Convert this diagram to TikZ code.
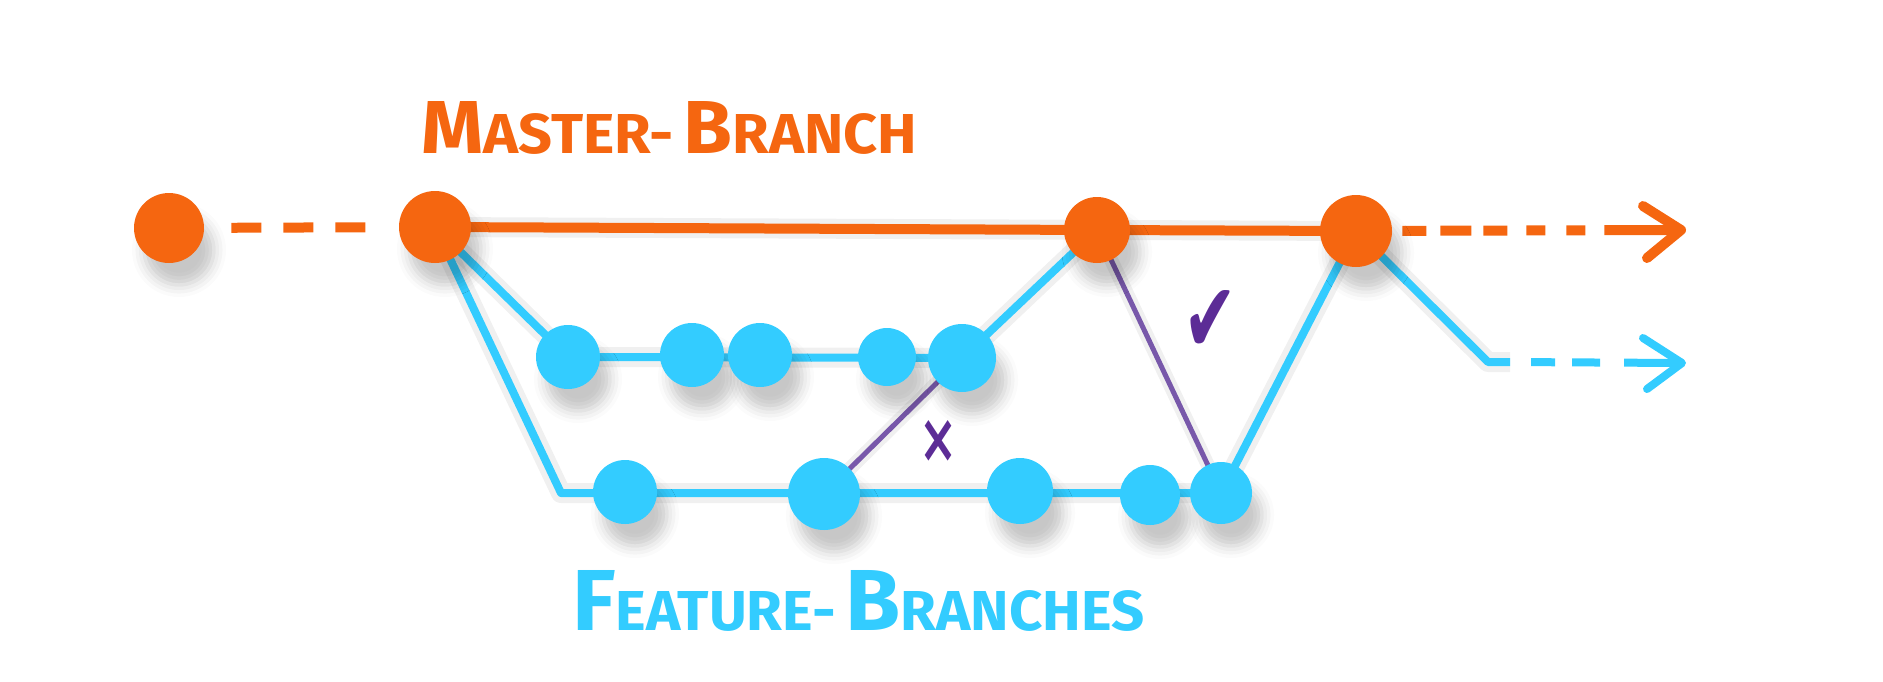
\documentclass[tikz,border=0pt]{standalone}
\usepackage{fontspec}
\usepackage{graphicx}
\setmainfont{Fira Sans}
\newfontfamily\symfont{DejaVu Sans}
\usetikzlibrary{shadows.blur}
\definecolor{mor}{RGB}{245,102,16}
\definecolor{fbl}{RGB}{51,204,255}
\definecolor{pdk}{RGB}{92,44,150}
\definecolor{pln}{RGB}{120,88,170}
\pgfdeclarelayer{shadowlayer}
\pgfdeclarelayer{linelayer}
\pgfsetlayers{shadowlayer,linelayer,main}
\begin{document}
\begin{tikzpicture}[x=0.5pt,y=-0.5pt,
  commit/.style={circle,inner sep=0pt,minimum size=#1,
    blur shadow={shadow xshift=5pt,shadow yshift=-11pt,shadow blur radius=6pt,shadow opacity=22}},
  mcommit/.style={commit=#1,fill=mor},
  fcommit/.style={commit=#1,fill=fbl},
  mline/.style={draw=mor,line width=5pt},
  fline/.style={draw=fbl,line width=4pt,line join=round},
  pline/.style={draw=pln,line width=2.5pt},
  tipline/.style={line cap=round,line join=round},
  lshadow/.style={draw=black,opacity=0.06,line width=10pt,line join=round},
  label/.style={anchor=base west,inner sep=0pt,font=\bfseries},
  markst/.style={inner sep=0pt,text=pdk,font=\symfont\bfseries},
]
\useasboundingbox (0,0) rectangle (1883,681);
% commits
\node[mcommit=35pt] (M0) at (169,228) {};
\node[mcommit=36pt] (M1) at (435,227) {};
\node[mcommit=33pt] (M2) at (1097,230) {};
\node[mcommit=36pt] (M3) at (1356,231) {};
\node[fcommit=32pt] (U1) at (568,357) {};
\node[fcommit=32pt] (U2) at (692,355) {};
\node[fcommit=32pt] (U3) at (760,355) {};
\node[fcommit=29pt] (U4) at (887,357) {};
\node[fcommit=34pt] (U5) at (962,358) {};
\node[fcommit=32pt] (L1) at (625,492) {};
\node[fcommit=36pt] (L2) at (824,494) {};
\node[fcommit=33pt] (L3) at (1020,491) {};
\node[fcommit=30pt] (L4) at (1150,495) {};
\node[fcommit=31pt] (L5) at (1221,493) {};
% free ends
\coordinate (lc) at (561,493);
\coordinate (otip) at (1681,230);
\coordinate (oa1) at (1643,206);
\coordinate (oa2) at (1647,258);
\coordinate (bc) at (1488,362);
\coordinate (bs) at (1510,362);
\coordinate (btip) at (1682,363);
\coordinate (ba1) at (1643,338);
\coordinate (ba2) at (1647,389);
% line shadows
\begin{pgfonlayer}{shadowlayer}
\begin{scope}[shift={(8,16)}]
\draw[lshadow] (M1.center) -- (M3.center);
\draw[lshadow] (M1.center) -- (U1.center) -- (U5.center) -- (M2.center);
\draw[lshadow] (M1.center) -- (lc) -- (L5.center) -- (M3.center);
\draw[lshadow] (M3.center) -- (bc) -- (bs);
\draw[lshadow,line width=7pt] (M2.center) -- (L5.center);
\draw[lshadow,line width=7pt] (L2.center) -- (U5.center);
\end{scope}
\end{pgfonlayer}
% connectors
\begin{pgfonlayer}{linelayer}
\draw[mline,dash pattern=on 15pt off 11pt,shorten <=13.5pt,shorten >=16pt] (M0) -- (M1);
\draw[mline] (M1.center) -- (M2.center) -- (M3.center);
\draw[mline,shorten <=5pt,dash pattern=on 12pt off 7pt on 15.5pt off 6pt on 12pt off 9.5pt on 9.5pt off 10.5pt on 9.5pt off 9.5pt on 45pt] (M3) -- (otip);
\draw[mline,tipline] (oa1) -- (otip) -- (oa2);
\draw[fline] (M1.center) -- (U1.center) -- (U5.center) -- (M2.center);
\draw[fline] (M1.center) -- (lc) -- (L5.center) -- (M3.center);
\draw[fline] (M3.center) -- (bc) -- (bs);
\draw[fline,dash pattern=on 0pt off 10.5pt on 12pt off 8.5pt on 14pt off 12pt on 40pt] (bs) -- (btip);
\draw[fline,tipline] (ba1) -- (btip) -- (ba2);
\draw[pline] (L2.center) -- (U5.center);
\draw[pline] (M2.center) -- (L5.center);
\end{pgfonlayer}
% marks
\node[markst] (ok) at (1210,321) {\resizebox{27pt}{31pt}{✔}};
\node[markst] (no) at (938,441) {\resizebox{19pt}{21pt}{×}};
% labels
\node[label,text=mor] (mt) at (421,153) {\resizebox{248pt}{26pt}{M{\fontsize{7.5}{8}\selectfont ASTER-\,}B{\fontsize{7.5}{8}\selectfont RANCH}}};
\node[label,text=fbl] (ft) at (572,630) {\resizebox{286pt}{30pt}{F{\fontsize{6.5}{8}\selectfont EATURE-\,}B{\fontsize{6.5}{8}\selectfont RANCHES}}};
\end{tikzpicture}
\end{document}
